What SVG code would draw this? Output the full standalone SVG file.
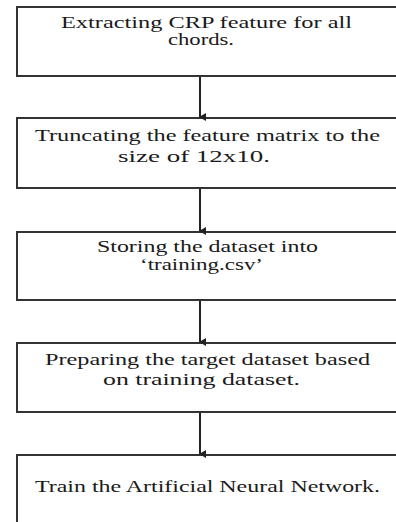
<svg xmlns="http://www.w3.org/2000/svg" width="396" height="522" viewBox="0 0 396 522">
<defs>
<style>
.box{fill:#fff;stroke:#333;stroke-width:2}
.t{font-family:"Liberation Serif","Times New Roman","DejaVu Serif",serif;font-size:16px;fill:#1a1a1a}
.c{stroke:#222;stroke-width:2;fill:none}
</style>
<marker id="ah" markerWidth="8" markerHeight="8" refX="4" refY="7" orient="auto" markerUnits="userSpaceOnUse" viewBox="0 0 8 8">
<path d="M0,1 L8,1 L4,8 Z" fill="#222"/>
</marker>
</defs>
<rect width="396" height="522" fill="#fff"/>
<g id="n1">
<rect class="box" x="17" y="7" width="390" height="69"/>
<text class="t" x="61" y="28" textLength="291" lengthAdjust="spacingAndGlyphs">Extracting CRP feature for all</text>
<text class="t" x="168" y="45" textLength="66" lengthAdjust="spacingAndGlyphs">chords.</text>
</g>
<g id="n2">
<rect class="box" x="17" y="118" width="390" height="70"/>
<text class="t" x="35" y="141" textLength="345" lengthAdjust="spacingAndGlyphs">Truncating the feature matrix to the</text>
<text class="t" x="118" y="162" textLength="152" lengthAdjust="spacingAndGlyphs">size of 12x10.</text>
</g>
<g id="n3">
<rect class="box" x="17" y="232" width="390" height="68"/>
<text class="t" x="97" y="252" textLength="221" lengthAdjust="spacingAndGlyphs">Storing the dataset into</text>
<text class="t" x="140" y="270" textLength="123" lengthAdjust="spacingAndGlyphs">‘training.csv’</text>
</g>
<g id="n4">
<rect class="box" x="17" y="343" width="390" height="69"/>
<text class="t" x="45" y="365" textLength="325" lengthAdjust="spacingAndGlyphs">Preparing the target dataset based</text>
<text class="t" x="103" y="385" textLength="197" lengthAdjust="spacingAndGlyphs">on training dataset.</text>
</g>
<g id="n5">
<rect class="box" x="17" y="455" width="390" height="80"/>
<text class="t" x="35" y="492" textLength="345" lengthAdjust="spacingAndGlyphs">Train the Artificial Neural Network.</text>
</g>
<g id="connectors">
<line class="c" x1="200" y1="77" x2="200" y2="117" marker-end="url(#ah)"/>
<line class="c" x1="200" y1="189" x2="200" y2="231" marker-end="url(#ah)"/>
<line class="c" x1="200" y1="301" x2="200" y2="342" marker-end="url(#ah)"/>
<line class="c" x1="200" y1="413" x2="200" y2="454" marker-end="url(#ah)"/>
</g>
</svg>
